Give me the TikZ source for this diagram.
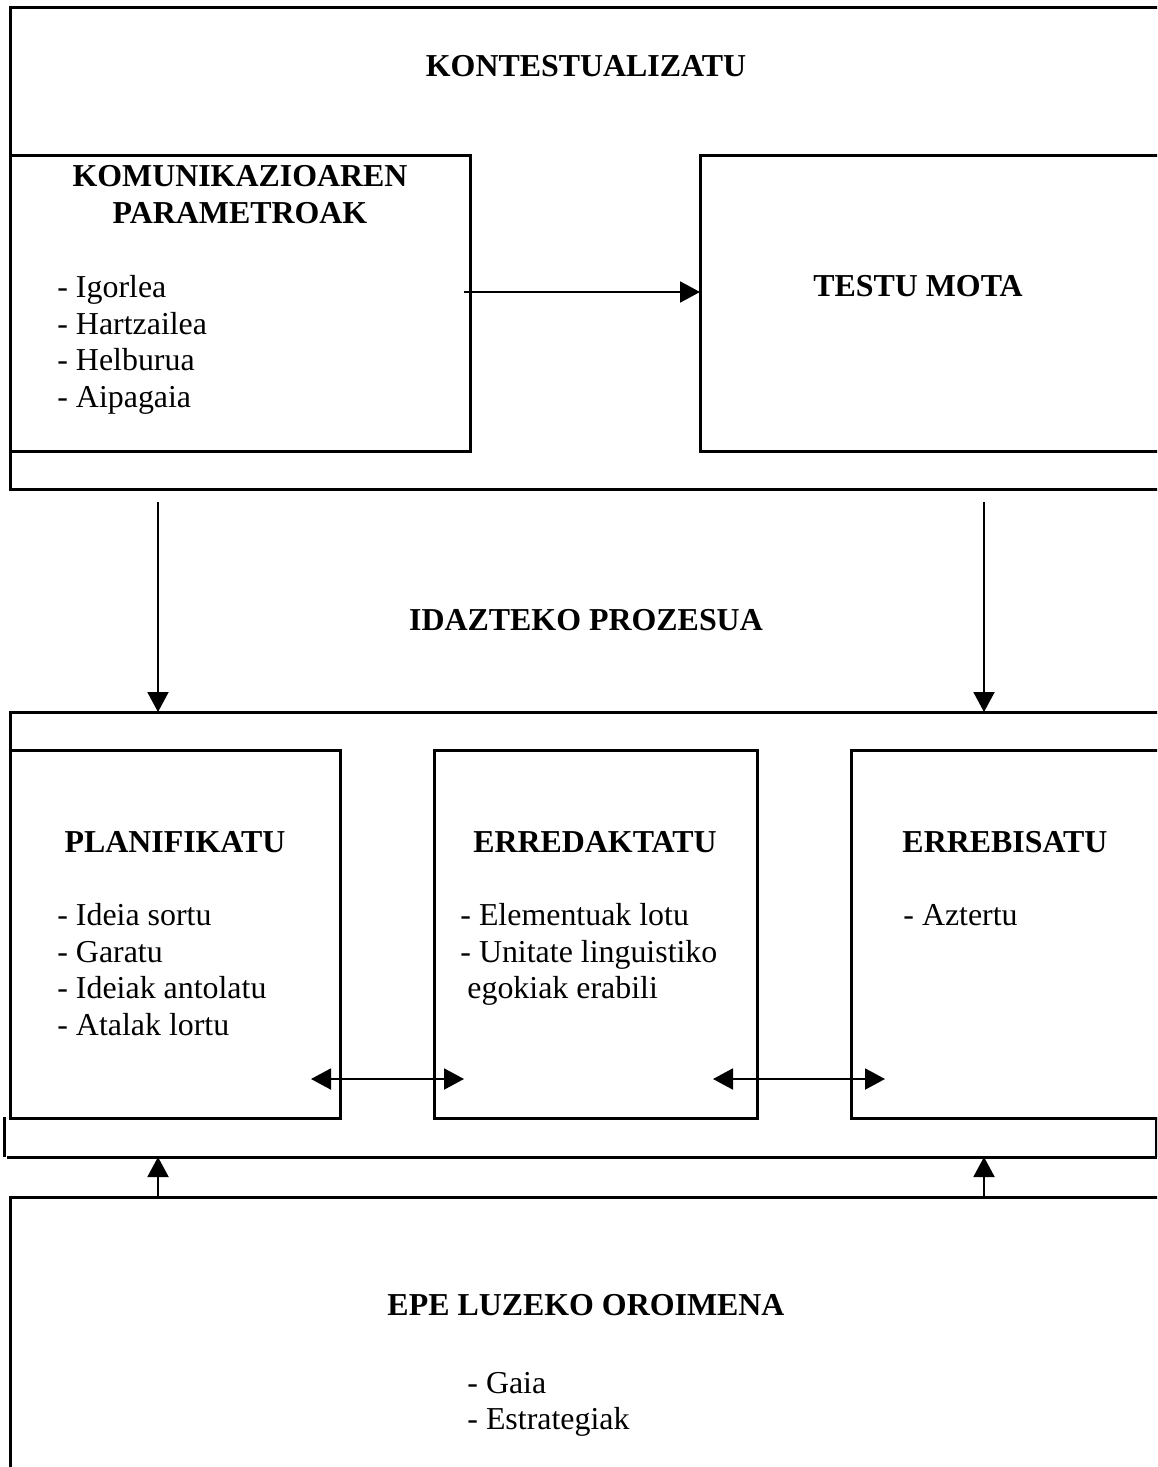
\documentclass[tikz,border=0pt]{standalone}
\usepackage{fontspec}
\setmainfont{Liberation Serif}
\usetikzlibrary{arrows.meta,fit}
\begin{document}
\begin{tikzpicture}[x=0.5pt,y=-0.5pt,
  box/.style={draw,line width=1.5pt,inner sep=0pt,outer sep=0pt},
  area/.style={inner sep=0pt,outer sep=0pt},
  ln/.style={line width=1.5pt},
  arr/.style={line width=1pt,-{Triangle[width=10.5pt,length=10pt]}},
  darr/.style={line width=1pt,{Triangle[width=10.5pt,length=10pt]}-{Triangle[width=10.5pt,length=10pt]}},
  hd/.style={font=\fontsize{15.95pt}{18.3pt}\selectfont\bfseries,anchor=base,inner sep=0pt},
  itm/.style={font=\fontsize{15.95pt}{18.3pt}\selectfont,anchor=base west,inner sep=0pt}]
\useasboundingbox (0,0) rectangle (1157,1467);
\begin{scope}
\clip (0,0) rectangle (1157,1467);
% top group
\node[box,fit={(10,7)(1200,489)}] (kont) {};
\node[box,fit={(10,155)(470,451)}] (kom) {};
\node[box,fit={(700,155)(1200,451)}] (testu) {};
% middle group
\node[area,fit={(10,712)(1157,1157)}] (proz) {};
\draw[ln] (1200,712) -- (10,712) -- (10,750);
\node[box,fit={(10,750)(340,1118)}] (plan) {};
\node[box,fit={(434,750)(757,1118)}] (erred) {};
\node[box,fit={(851,750)(1200,1118)}] (errebi) {};
\draw[ln] (4,1117) -- (4,1157);
\draw[ln] (7,1157) -- (1157,1157);
\draw[ln] (1156,1118) -- (1156,1157);
% bottom group
\node[box,fit={(10,1197)(1200,1500)}] (epe) {};
\end{scope}

% texts
\node[hd] (t-kont) at (586,76.5) {KONTESTUALIZATU};
\node[hd] (t-kom1) at (240,186.5) {KOMUNIKAZIOAREN};
\node[hd] (t-kom2) at (240,223.5) {PARAMETROAK};
\node[itm] (k1) at (57,297.5) {- Igorlea};
\node[itm] (k2) at (57,334.1) {- Hartzailea};
\node[itm] (k3) at (57,370.7) {- Helburua};
\node[itm] (k4) at (57,407.3) {- Aipagaia};
\node[hd] (t-testu) at (918,296.5) {TESTU MOTA};
\node[hd] (t-idaz) at (586,630.5) {IDAZTEKO PROZESUA};
\node[hd] (t-plan) at (175,852.5) {PLANIFIKATU};
\node[itm] (p1) at (57,925.5) {- Ideia sortu};
\node[itm] (p2) at (57,962.1) {- Garatu};
\node[itm] (p3) at (57,998.7) {- Ideiak antolatu};
\node[itm] (p4) at (57,1035.3) {- Atalak lortu};
\node[hd] (t-erred) at (595,852.5) {ERREDAKTATU};
\node[itm] (e1) at (460,925.5) {- Elementuak lotu};
\node[itm] (e2) at (460,962.1) {- Unitate linguistiko};
\node[itm] (e3) at (467,998.7) {egokiak erabili};
\node[hd] (t-errebi) at (1005,852.5) {ERREBISATU};
\node[itm] (r1) at (903,925.5) {- Aztertu};
\node[hd] (t-epe) at (586,1315.5) {EPE LUZEKO OROIMENA};
\node[itm] (g1) at (467,1393.5) {- Gaia};
\node[itm] (g2) at (467,1429.5) {- Estrategiak};

% connectors
\coordinate (a1) at (464,292);
\draw[arr] (a1) -- (a1 -| testu.west);
\coordinate (d1) at (158,502);
\coordinate (d2) at (984,502);
\draw[arr] (d1) -- (d1 |- proz.north);
\draw[arr] (d2) -- (d2 |- proz.north);
\coordinate (u1) at (158,1197);
\coordinate (u2) at (984,1197);
\draw[arr] (u1) -- (u1 |- proz.south);
\draw[arr] (u2) -- (u2 |- proz.south);
\coordinate (b1) at (311,1079);
\coordinate (b2) at (464,1079);
\coordinate (b3) at (713,1079);
\coordinate (b4) at (885,1079);
\draw[darr] (b1) -- (b2);
\draw[darr] (b3) -- (b4);
\end{tikzpicture}
\end{document}
